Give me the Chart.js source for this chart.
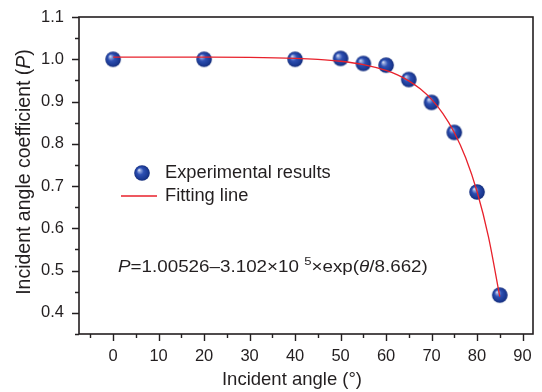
<!DOCTYPE html>
<html><head><meta charset="utf-8">
<script src="https://cdn.jsdelivr.net/npm/chart.js@4/dist/chart.umd.min.js"></script>
<style>html,body{margin:0;padding:0;background:#fff}canvas{display:block}</style>
</head><body>
<div style="width:542px;height:392px"><canvas id="c" width="542" height="392"></canvas></div>
<script>
// ---- data ----
const angles = [0, 20, 40, 50, 55, 60, 65, 70, 75, 80, 85];
const coefficients = [1.0, 1.0, 1.0, 1.002, 0.99, 0.986, 0.952, 0.898, 0.827, 0.686, 0.442];
const fitAngles = [0, 10, 20, 30, 40, 45, 50, 55, 60, 62.5, 65, 67.5, 70, 72.5, 75, 77.5, 80, 82.5, 85];
const fitValues = [1.0052, 1.0052, 1.0050, 1.0043, 1.0021, 0.9997, 0.9953, 0.9875, 0.9737, 0.9631, 0.9490, 0.9301, 0.9050, 0.8714, 0.8267, 0.7668, 0.6871, 0.5806, 0.4385];
const xTickLabels = ['0', '10', '20', '30', '40', '50', '60', '70', '80', '90'];
const yTickLabels = ['0.4', '0.5', '0.6', '0.7', '0.8', '0.9', '1.0', '1.1'];
const seriesNames = ['Experimental results', 'Fitting line'];

const INK = '#231f20';
const FONT = '"Liberation Sans", Arial, sans-serif';

// sphere marker
function makeSphere(r) {
  const s = Math.ceil(r * 2 + 2);
  const c = document.createElement('canvas');
  c.width = s; c.height = s;
  const g = c.getContext('2d');
  const cx = s / 2, cy = s / 2;
  const grad = g.createRadialGradient(cx - r * 0.4, cy - r * 0.4, 0, cx, cy, r);
  grad.addColorStop(0, '#f2f4fb');
  grad.addColorStop(0.18, '#8da2dc');
  grad.addColorStop(0.45, '#2d4fb2');
  grad.addColorStop(0.8, '#1c3b96');
  grad.addColorStop(1, '#142c7a');
  g.fillStyle = grad;
  g.beginPath(); g.arc(cx, cy, r, 0, Math.PI * 2); g.fill();
  return c;
}
const sphere = makeSphere(7.8);

const decor = {
  id: 'decor',
  afterDraw(chart) {
    const ctx = chart.ctx;
    const a = chart.chartArea;
    const xs = chart.scales.x, ys = chart.scales.y;
    ctx.save();
    ctx.strokeStyle = INK;
    ctx.lineWidth = 1.6;
    ctx.strokeRect(a.left, a.top, a.right - a.left, a.bottom - a.top);
    ctx.lineWidth = 1.4;
    ctx.beginPath();
    xs.ticks.forEach(t => {
      const px = Math.round(xs.getPixelForValue(t.value)) + 0.5;
      const major = t.label !== '';
      ctx.moveTo(px, a.bottom);
      ctx.lineTo(px, a.bottom + (major ? 7 : 4));
    });
    ys.ticks.forEach(t => {
      const py = Math.round(ys.getPixelForValue(t.value)) + 0.5;
      const major = t.label !== '';
      ctx.moveTo(a.left, py);
      ctx.lineTo(a.left - (major ? 7 : 4), py);
    });
    ctx.stroke();

    ctx.fillStyle = INK;
    // x title
    ctx.font = '18.5px ' + FONT;
    ctx.textAlign = 'center';
    ctx.textBaseline = 'alphabetic';
    ctx.fillText('Incident angle (°)', 292, 385);
    // y title with italic P
    ctx.save();
    ctx.translate(30, 172);
    ctx.rotate(-Math.PI / 2);
    const p1 = 'Incident angle coefficient (', p2 = 'P', p3 = ')';
    const yf = '19.5px ';
    ctx.font = yf + FONT;
    const w1 = ctx.measureText(p1).width, w3 = ctx.measureText(p3).width;
    ctx.font = 'italic ' + yf + FONT;
    const w2 = ctx.measureText(p2).width;
    let x0 = -(w1 + w2 + w3) / 2;
    ctx.textAlign = 'left';
    ctx.font = yf + FONT; ctx.fillText(p1, x0, 0);
    ctx.font = 'italic ' + yf + FONT; ctx.fillText(p2, x0 + w1, 0);
    ctx.font = yf + FONT; ctx.fillText(p3, x0 + w1 + w2, 0);
    ctx.restore();

    // legend
    ctx.drawImage(sphere, 142 - sphere.width / 2, 173 - sphere.height / 2);
    ctx.strokeStyle = '#e8212b';
    ctx.lineWidth = 1.3;
    ctx.beginPath(); ctx.moveTo(121, 196); ctx.lineTo(157, 196); ctx.stroke();
    ctx.font = '18.3px ' + FONT;
    ctx.textAlign = 'left';
    ctx.textBaseline = 'middle';
    ctx.fillText(seriesNames[0], 165, 173);
    ctx.fillText(seriesNames[1], 165, 196);

    // formula (slightly wide lettering as in the figure)
    ctx.textBaseline = 'alphabetic';
    const parts = [
      ['italic', 'P'], ['', '=1.00526\u20133.102\u00d710 '], ['sup', '5'], ['', '\u00d7exp('], ['italic', '\u03b8'], ['', '/8.662)']
    ];
    ctx.save();
    ctx.translate(118, 272);
    ctx.scale(1.14, 1);
    let x = 0;
    parts.forEach(([st, txt]) => {
      if (st === 'sup') { ctx.font = '11.5px ' + FONT; ctx.fillText(txt, x, -7); }
      else { ctx.font = (st === 'italic' ? 'italic ' : '') + '16.5px ' + FONT; ctx.fillText(txt, x, 0); }
      x += ctx.measureText(txt).width;
    });
    ctx.restore();
    ctx.restore();
  }
};

new Chart(document.getElementById('c'), {
  type: 'scatter',
  data: {
    datasets: [
      {
        label: seriesNames[1],
        data: fitAngles.map((v, i) => ({ x: v, y: fitValues[i] })),
        showLine: true,
        borderColor: '#e8212b',
        borderWidth: 1.3,
        pointRadius: 0,
        cubicInterpolationMode: 'monotone',
        order: 0
      },
      {
        label: seriesNames[0],
        data: angles.map((v, i) => ({ x: v, y: coefficients[i] })),
        pointStyle: sphere,
        pointRadius: 8,
        order: 1
      }
    ]
  },
  options: {
    responsive: false,
    animation: false,
    layout: { padding: { top: 17, right: 6, left: 0, bottom: 0 } },
    plugins: { legend: { display: false }, tooltip: { enabled: false } },
    scales: {
      x: {
        type: 'linear', min: -7.5, max: 92.3,
        grid: { display: false, drawTicks: false },
        border: { display: false },
        ticks: {
          stepSize: 5, includeBounds: false, autoSkip: false, maxRotation: 0, padding: 13, color: INK,
          font: { family: FONT, size: 16.5 },
          callback: v => {
            const i = Math.round(v / 10);
            return (Math.abs(v - i * 10) < 1e-6 && i >= 0 && i < xTickLabels.length) ? xTickLabels[i] : '';
          }
        },
        afterFit: s => { s.height = 58; s.paddingLeft = 0; s.paddingRight = 0; }
      },
      y: {
        type: 'linear', min: 0.35, max: 1.1,
        grid: { display: false, drawTicks: false },
        border: { display: false },
        ticks: {
          stepSize: 0.05, includeBounds: false, autoSkip: false, padding: 15, color: INK,
          font: { family: FONT, size: 16.5 },
          callback: v => {
            const i = Math.round((v - 0.4) * 10);
            return (Math.abs(v - 0.4 - i * 0.1) < 1e-6 && i >= 0 && i < yTickLabels.length) ? yTickLabels[i] : '';
          }
        },
        afterFit: s => { s.width = 79; s.paddingTop = 0; s.paddingBottom = 0; }
      }
    }
  },
  plugins: [decor]
});
</script>
</body></html>
